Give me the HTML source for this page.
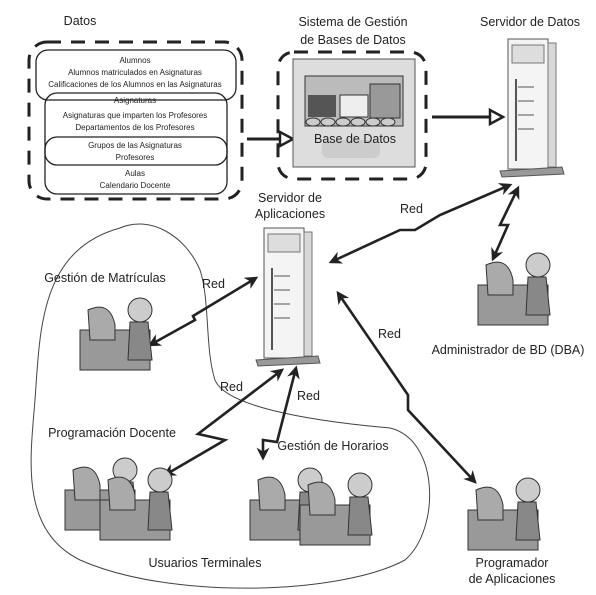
<!DOCTYPE html>
<html><head><meta charset="utf-8"><style>
body{margin:0;background:#fff}
svg{display:block}
text{font-family:"Liberation Sans",sans-serif;fill:#222}
</style></head><body>
<svg width="596" height="595" viewBox="0 0 596 595" xmlns="http://www.w3.org/2000/svg">
<defs>
<marker id="a" viewBox="0 0 10 10" refX="8" refY="5" markerWidth="5" markerHeight="5" orient="auto-start-reverse"><path d="M0,0 L10,5 L0,10 L3,5z" fill="#222"/></marker>
<g id="srv">
<rect x="0" y="0" width="40" height="130" fill="#f4f4f4" stroke="#555"/>
<rect x="40" y="4" width="8" height="124" fill="#d8d8d8" stroke="#777"/>
<rect x="4" y="6" width="32" height="18" fill="#ddd" stroke="#777"/>
<line x1="8" y1="40" x2="8" y2="122" stroke="#555" stroke-width="2"/>
<line x1="10" y1="48" x2="26" y2="48" stroke="#555"/><line x1="10" y1="62" x2="26" y2="62" stroke="#555"/><line x1="10" y1="76" x2="26" y2="76" stroke="#555"/><line x1="10" y1="90" x2="26" y2="90" stroke="#555"/>
<path d="M-8,132 L54,128 L56,135 L-6,138z" fill="#999" stroke="#555"/>
</g>
<g id="pc">
<rect x="0" y="20" width="70" height="40" fill="#999" stroke="#333"/>
<path d="M8,0 Q30,-10 35,15 L35,30 L10,30z" fill="#aaa" stroke="#333"/>
<circle cx="60" cy="0" r="12" fill="#ccc" stroke="#333"/>
<path d="M50,12 L68,12 L72,50 L48,50z" fill="#888" stroke="#333"/>
</g>
</defs>

<text x="80" y="25" font-size="12.5" text-anchor="middle">Datos</text>
<rect x="29" y="42" width="213" height="157" rx="18" fill="none" stroke="#222" stroke-width="3" stroke-dasharray="14,10"/>
<rect x="36" y="50" width="200" height="50" rx="12" fill="none" stroke="#222" stroke-width="1.3"/>
<rect x="45" y="93" width="182" height="72" rx="12" fill="none" stroke="#222" stroke-width="1.3"/>
<rect x="45" y="137" width="182" height="57" rx="12" fill="none" stroke="#222" stroke-width="1.3"/>
<g font-size="8" text-anchor="middle">
<text x="135" y="63">Alumnos</text>
<text x="135" y="75">Alumnos matriculados en Asignaturas</text>
<text x="135" y="87">Calificaciones de los Alumnos en las Asignaturas</text>
<text x="135" y="103">Asignaturas</text>
<text x="135" y="118">Asignaturas que imparten los Profesores</text>
<text x="135" y="130">Departamentos de los Profesores</text>
<text x="135" y="148">Grupos de las Asignaturas</text>
<text x="135" y="160">Profesores</text>
<text x="135" y="176">Aulas</text>
<text x="135" y="188">Calendario Docente</text>
</g>
<line x1="247" y1="139" x2="282" y2="139" stroke="#222" stroke-width="3"/>
<path d="M280,132 L293,139 L280,146z" fill="#fff" stroke="#222" stroke-width="2.5"/>

<text x="353" y="26" font-size="12.5" text-anchor="middle">Sistema de Gestión</text>
<text x="353" y="44" font-size="12.5" text-anchor="middle">de Bases de Datos</text>
<rect x="278" y="52" width="148" height="127" rx="16" fill="none" stroke="#222" stroke-width="3" stroke-dasharray="14,10"/>
<rect x="293" y="59" width="122" height="108" fill="#ddd" stroke="#555"/>
<rect x="305" y="76" width="98" height="50" fill="#bbb" stroke="#333"/>
<rect x="308" y="95" width="28" height="22" fill="#555"/>
<rect x="340" y="95" width="28" height="22" fill="#eee" stroke="#333"/>
<rect x="370" y="84" width="30" height="34" fill="#999" stroke="#333"/>
<g fill="#ccc" stroke="#333"><ellipse cx="313" cy="122" rx="7" ry="4"/><ellipse cx="328" cy="122" rx="7" ry="4"/><ellipse cx="343" cy="122" rx="7" ry="4"/><ellipse cx="358" cy="122" rx="7" ry="4"/><ellipse cx="373" cy="122" rx="7" ry="4"/><ellipse cx="388" cy="122" rx="7" ry="4"/></g>
<rect x="322" y="140" width="58" height="18" rx="6" fill="#ccc"/>
<text x="355" y="143" font-size="12.5" text-anchor="middle">Base de Datos</text>
<line x1="432" y1="117" x2="492" y2="117" stroke="#222" stroke-width="3"/>
<path d="M490,110 L503,117 L490,124z" fill="#fff" stroke="#222" stroke-width="2.5"/>

<text x="480" y="26" font-size="12.5">Servidor de Datos</text>
<use href="#srv" x="508" y="39"/>
<text x="290" y="202" font-size="12.5" text-anchor="middle">Servidor de</text>
<text x="290" y="218" font-size="12.5" text-anchor="middle">Aplicaciones</text>
<use href="#srv" x="264" y="228"/>

<path d="M120,228 C150,215 185,235 200,270 C210,300 205,350 215,380 C225,405 300,420 390,428 C440,440 440,530 405,560 C340,595 170,600 80,560 C20,530 30,460 35,400 C40,330 40,250 120,228z" fill="none" stroke="#444" stroke-width="1"/>

<g stroke="#222" stroke-width="2.6" fill="none" marker-start="url(#a)" marker-end="url(#a)">
<polyline points="331,262 400,230 415,230 440,215 510,185"/>
<polyline points="493,259 508,225 500,225 518,188"/>
<polyline points="150,345 195,320 193,316 256,278"/>
<polyline points="165,475 225,440 198,434 282,370"/>
<polyline points="263,458 263,440 277,442 296,368"/>
<polyline points="338,293 408,395 408,410 475,482"/>
</g>
<g font-size="12.5">
<text x="400" y="213">Red</text>
<text x="202" y="288">Red</text>
<text x="378" y="338">Red</text>
<text x="220" y="391">Red</text>
<text x="297" y="400">Red</text>
</g>

<text x="105" y="282" font-size="12.5" text-anchor="middle">Gestión de Matrículas</text>
<use href="#pc" x="80" y="310"/>
<text x="112" y="437" font-size="12.5" text-anchor="middle">Programación Docente</text>
<use href="#pc" x="65" y="470"/>
<use href="#pc" x="100" y="480"/>
<text x="333" y="450" font-size="12.5" text-anchor="middle">Gestión de Horarios</text>
<use href="#pc" x="250" y="480"/>
<use href="#pc" x="300" y="485"/>
<text x="205" y="567" font-size="12.5" text-anchor="middle">Usuarios Terminales</text>
<use href="#pc" x="478" y="265"/>
<text x="508" y="354" font-size="12.5" text-anchor="middle">Administrador de BD (DBA)</text>
<use href="#pc" x="468" y="490"/>
<text x="512" y="567" font-size="12.5" text-anchor="middle">Programador</text>
<text x="512" y="583" font-size="12.5" text-anchor="middle">de Aplicaciones</text>
</svg>
</body></html>
